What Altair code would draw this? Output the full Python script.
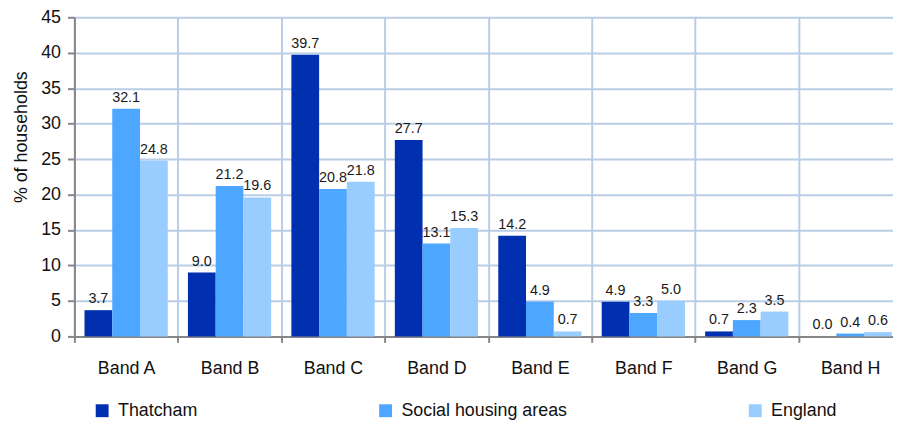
import altair as alt
import pandas as pd

bands = ["Band A", "Band B", "Band C", "Band D", "Band E", "Band F", "Band G", "Band H"]
series = ["Thatcham", "Social housing areas", "England"]
thatcham = [3.7, 9.0, 39.7, 27.7, 14.2, 4.9, 0.7, 0.0]
social = [32.1, 21.2, 20.8, 13.1, 4.9, 3.3, 2.3, 0.4]
england = [24.8, 19.6, 21.8, 15.3, 0.7, 5.0, 3.5, 0.6]
colors = ["#0030B0", "#4DA6FF", "#99CCFF"]
y_ticks = [0, 5, 10, 15, 20, 25, 30, 35, 40, 45]

rows = []
for s, vals in zip(series, [thatcham, social, england]):
    for b, v in zip(bands, vals):
        rows.append({"band": b, "series": s, "value": v})
df = pd.DataFrame(rows)

GRID = "#B9CDE5"
AXC = "#868686"
FONT = "Liberation Sans"

x_scale = alt.Scale(domain=bands, range=[0, 835], paddingInner=0, paddingOuter=0)
xo_scale = alt.Scale(domain=series, paddingInner=0, paddingOuter=0.364)
y_scale = alt.Scale(domain=[0, 45], nice=False)

x_axis = alt.Axis(
    title=None, grid=True, tickBand="extent", gridColor=GRID, gridWidth=2,
    labelAngle=0, labelFontSize=18, labelFont=FONT, labelColor="#111111",
    tickSize=6, tickColor=AXC, tickWidth=2, domainColor=AXC, domainWidth=2,
    labelPadding=17,
)
y_axis = alt.Axis(
    values=y_ticks, title="% of households", titleFontSize=18, titleFont=FONT,
    titleFontWeight="normal", titleColor="#111111", titleAngle=-90,
    titleAlign="center", titleBaseline="middle", titleX=-53, titleY=120.5,
    labelFontSize=18, labelFont=FONT, labelColor="#111111", labelPadding=7,
    tickSize=7, tickColor=AXC, tickWidth=2, domainColor=AXC, domainWidth=2,
    gridColor=GRID, gridWidth=2, labelOverlap=False,
)

bars = alt.Chart(df).mark_bar().encode(
    x=alt.X("band:N", sort=bands, scale=x_scale, axis=x_axis),
    xOffset=alt.XOffset("series:N", sort=series, scale=xo_scale),
    y=alt.Y("value:Q", scale=y_scale, axis=y_axis),
    color=alt.Color(
        "series:N", sort=series,
        scale=alt.Scale(domain=series, range=colors),
        legend=alt.Legend(
            title=None, orient="none", legendX=19, legendY=388,
            direction="horizontal", symbolType="square", symbolSize=169,
            symbolStrokeWidth=0, labelFontSize=18, labelFont=FONT,
            labelColor="#111111", labelOffset=7, columnPadding=180, padding=0,
            labelLimit=400,
        ),
    ),
)

labels = alt.Chart(df).mark_text(
    baseline="alphabetic", dy=-7, fontSize=14.5, font=FONT, color="#1a1a1a"
).encode(
    x=alt.X("band:N", sort=bands, scale=x_scale, axis=x_axis),
    xOffset=alt.XOffset("series:N", sort=series, scale=xo_scale),
    y=alt.Y("value:Q", scale=y_scale, axis=y_axis),
    text=alt.Text("value:Q", format=".1f"),
)

chart = (
    alt.layer(bars, labels)
    .properties(
        width=826, height=322,
        autosize=alt.AutoSizeParams(type="none"),
        padding={"left": 67, "top": 7.5, "right": 0, "bottom": 84},
    )
    .configure_view(stroke=None)
)

chart.save("out.html", embed_options={"renderer": "svg", "actions": False})
